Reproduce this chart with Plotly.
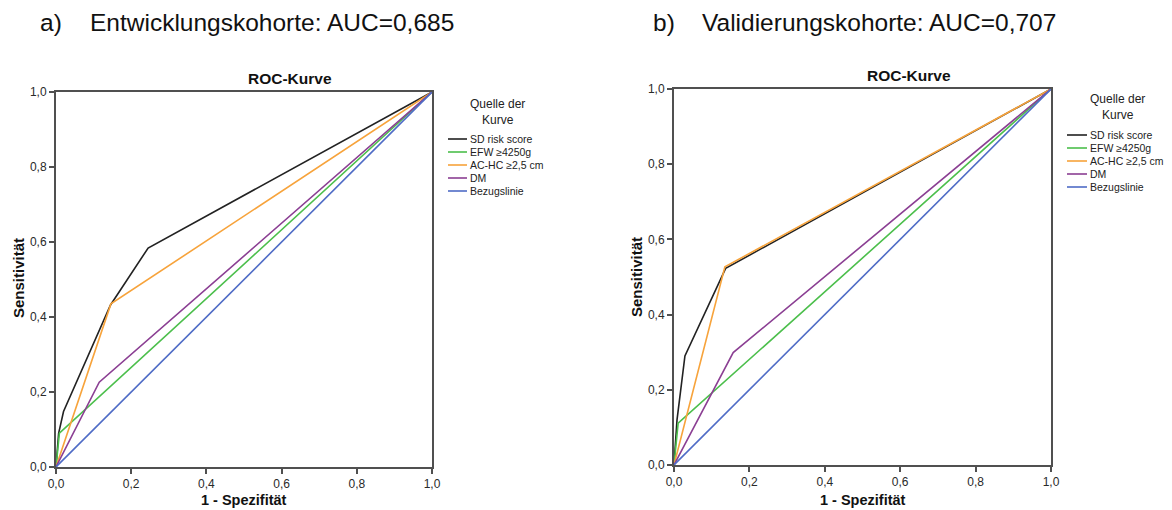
import plotly.graph_objects as go

# page body adds an 8px offset; the figure is sized so that it fills the 1172x510 window
OFF = 8
W, H = 1172 - OFF, 510 - OFF

# ---------------- data ----------------
series_names = ["SD risk score", "EFW \u22654250g", "AC-HC \u22652,5 cm", "DM", "Bezugslinie"]
series_colors = ["#222222", "#4cbf4c", "#f7a33b", "#8b3f93", "#4f6cc6"]

# Panel a) Entwicklungskohorte
a_sd_x = [0, 0.007, 0.02, 0.145, 0.245, 1]
a_sd_y = [0, 0.09, 0.148, 0.432, 0.584, 1]
a_efw_x = [0, 0.009, 1]
a_efw_y = [0, 0.09, 1]
a_ac_x = [0, 0.146, 1]
a_ac_y = [0, 0.435, 1]
a_dm_x = [0, 0.115, 1]
a_dm_y = [0, 0.226, 1]
a_ref_x = [0, 1]
a_ref_y = [0, 1]

# Panel b) Validierungskohorte
b_sd_x = [0, 0.008, 0.029, 0.137, 1]
b_sd_y = [0, 0.12, 0.29, 0.523, 1]
b_efw_x = [0, 0.011, 1]
b_efw_y = [0, 0.111, 1]
b_ac_x = [0, 0.135, 1]
b_ac_y = [0, 0.527, 1]
b_dm_x = [0, 0.157, 1]
b_dm_y = [0, 0.299, 1]
b_ref_x = [0, 1]
b_ref_y = [0, 1]

tick_vals = [0, 0.2, 0.4, 0.6, 0.8, 1.0]
tick_text = ["0,0", "0,2", "0,4", "0,6", "0,8", "1,0"]

panel_titles = ["a)", "b)"]
panel_subtitles = ["Entwicklungskohorte: AUC=0,685", "Validierungskohorte: AUC=0,707"]
chart_title = "ROC-Kurve"
x_title = "1 - Spezifit\u00e4t"
y_title = "Sensitivit\u00e4t"
legend_title = "Quelle der<br>Kurve"

# ---------------- helpers (window pixels -> paper fractions) ----------------
def px(x):
    return (x - OFF) / W

def py(y):
    return 1 - (y - OFF) / H

FONT = "Liberation Sans, Arial, sans-serif"

fig = go.Figure()

panels = [
    dict(xs=[a_sd_x, a_efw_x, a_ac_x, a_dm_x, a_ref_x],
         ys=[a_sd_y, a_efw_y, a_ac_y, a_dm_y, a_ref_y],
         xa="x", ya="y"),
    dict(xs=[b_sd_x, b_efw_x, b_ac_x, b_dm_x, b_ref_x],
         ys=[b_sd_y, b_efw_y, b_ac_y, b_dm_y, b_ref_y],
         xa="x2", ya="y2"),
]

for p in panels:
    for name, color, xs, ys in zip(series_names, series_colors, p["xs"], p["ys"]):
        fig.add_trace(go.Scatter(
            x=xs, y=ys, mode="lines", name=name,
            line=dict(color=color, width=1.6),
            xaxis=p["xa"], yaxis=p["ya"], showlegend=False,
            hoverinfo="skip",
        ))

axis_common = dict(
    range=[0, 1], tickvals=tick_vals, ticktext=tick_text,
    showgrid=False, zeroline=False, automargin=False,
    showline=True, mirror=True, linecolor="#505050", linewidth=2,
    ticks="outside", ticklen=5, tickwidth=1.5, tickcolor="#505050",
    tickfont=dict(family=FONT, size=12, color="#2a2a2a"),
    fixedrange=True,
)

fig.update_layout(
    template="none",
    width=W, height=H,
    margin=dict(l=0, r=0, t=0, b=0, pad=0, autoexpand=False),
    paper_bgcolor="white", plot_bgcolor="white",
    xaxis=dict(domain=[px(56), px(432)], anchor="y", **axis_common),
    yaxis=dict(domain=[py(467), py(92)], anchor="x", **axis_common),
    xaxis2=dict(domain=[px(674), px(1051)], anchor="y2", **axis_common),
    yaxis2=dict(domain=[py(465), py(89)], anchor="x2", **axis_common),
    showlegend=False,
)

ann = []
shapes = []

# Top titles
for lab_x, txt_x, lab, sub in [(38, 88, panel_titles[0], panel_subtitles[0]),
                               (651, 700, panel_titles[1], panel_subtitles[1])]:
    ann.append(dict(x=px(lab_x), y=py(23), xref="paper", yref="paper", text=lab,
                    showarrow=False, xanchor="left", yanchor="middle",
                    font=dict(family=FONT, size=24.5, color="#111111")))
    ann.append(dict(x=px(txt_x), y=py(23), xref="paper", yref="paper", text=sub,
                    showarrow=False, xanchor="left", yanchor="middle",
                    font=dict(family=FONT, size=24.5, color="#111111")))

# Chart titles, axis titles
for cx, cy, ycx, ycy, xcx, xcy in [(290, 79, 18, 278, 244, 500),
                                   (909, 75, 636, 277, 863, 500)]:
    ann.append(dict(x=px(cx), y=py(cy), xref="paper", yref="paper",
                    text="<b>%s</b>" % chart_title, showarrow=False,
                    xanchor="center", yanchor="middle",
                    font=dict(family=FONT, size=15.5, color="#111111")))
    ann.append(dict(x=px(ycx), y=py(ycy), xref="paper", yref="paper",
                    text="<b>%s</b>" % y_title, showarrow=False, textangle=-90,
                    xanchor="center", yanchor="middle",
                    font=dict(family=FONT, size=15, color="#111111")))
    ann.append(dict(x=px(xcx), y=py(xcy), xref="paper", yref="paper",
                    text="<b>%s</b>" % x_title, showarrow=False,
                    xanchor="center", yanchor="middle",
                    font=dict(family=FONT, size=14.5, color="#111111")))

# Legends (drawn as legend boxes in paper space)
for title_cx, title_y, line_x0, line_x1, entry_y0 in [(497, 112, 448, 467, 139),
                                                     (1117, 107, 1067, 1087, 135)]:
    ann.append(dict(x=px(title_cx), y=py(title_y), xref="paper", yref="paper",
                    text=legend_title, showarrow=False, align="center",
                    xanchor="center", yanchor="middle",
                    font=dict(family=FONT, size=12, color="#222222")))
    for i, (name, color) in enumerate(zip(series_names, series_colors)):
        yy = entry_y0 + 13 * i
        shapes.append(dict(type="line", xref="paper", yref="paper",
                           x0=px(line_x0), x1=px(line_x1), y0=py(yy), y1=py(yy),
                           line=dict(color=color, width=1.6)))
        ann.append(dict(x=px(line_x1 + 1), y=py(yy), xref="paper", yref="paper",
                        text=name, showarrow=False, xanchor="left", yanchor="middle",
                        font=dict(family=FONT, size=10.5, color="#222222")))

fig.update_layout(annotations=ann, shapes=shapes)

fig.write_html("out.html")
